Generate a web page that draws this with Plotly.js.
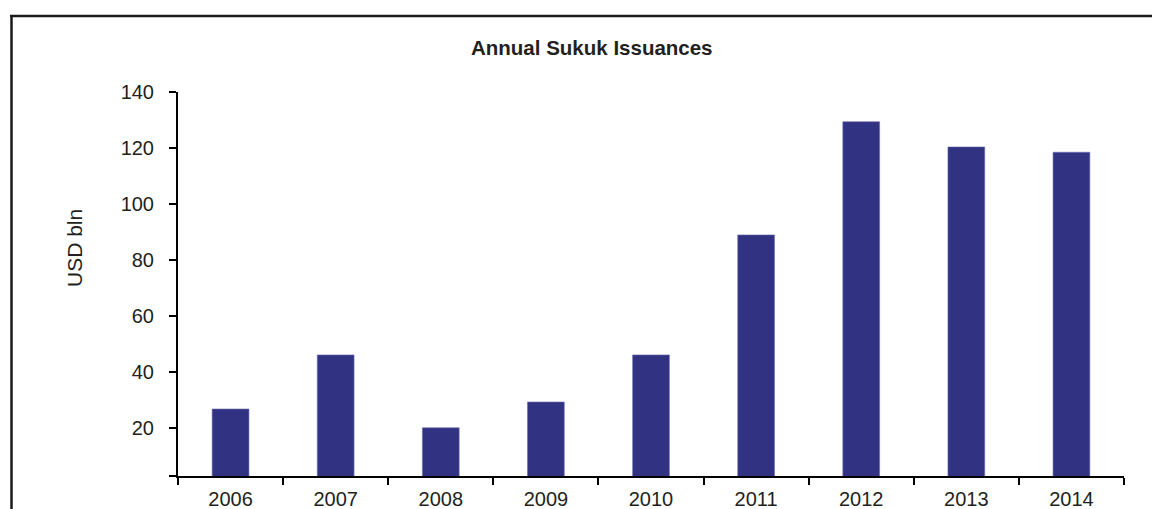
<!DOCTYPE html>
<html>
<head>
<meta charset="utf-8">
<script src="https://cdn.plot.ly/plotly-3.0.1.min.js"></script>
<style>html,body{margin:0;padding:0;background:#fff;}#chart{width:1152px;height:509px;}</style>
</head>
<body>
<div id="chart"></div>
<script>
const years = ['2006','2007','2008','2009','2010','2011','2012','2013','2014'];
const issuances = [26.9, 46.2, 20.2, 29.4, 46.2, 89.0, 129.4, 120.4, 118.5];
const yTickVals = [3, 20, 40, 60, 80, 100, 120, 140];
const yTickText = ['', '20', '40', '60', '80', '100', '120', '140'];
const titleText = 'Annual Sukuk Issuances';
const yTitleText = 'USD bln';

const font = {family: 'Liberation Sans, Arial, sans-serif', size: 20, color: '#231f20'};
const L = 178, R = 1124, T = 92, B = 476;
const px = v => (v - L) / (R - L);
const py = v => (B - v) / (B - T);

const trace = {
  type: 'bar', x: years, y: issuances,
  marker: {color: '#313282', line: {color: '#6a6bb0', width: 0.6}},
  hoverinfo: 'x+y'
};

const layout = {
  width: 1152, height: 509,
  margin: {l: L, r: 1152 - R, t: T, b: 509 - B, pad: 0},
  paper_bgcolor: '#fff', plot_bgcolor: '#fff',
  font: font,
  showlegend: false,
  bargap: 0.65,
  xaxis: {
    type: 'category', showgrid: false, zeroline: false,
    showline: true, linecolor: '#000', linewidth: 2,
    ticks: 'outside', tickson: 'boundaries', ticklen: 7, tickwidth: 2, tickcolor: '#000',
    tickfont: font, ticklabelstandoff: 4
  },
  yaxis: {
    range: [3, 140], showgrid: false, zeroline: false,
    showline: true, linecolor: '#000', linewidth: 2,
    ticks: 'outside', ticklen: 7, tickwidth: 2, tickcolor: '#000',
    tickmode: 'array', tickvals: yTickVals, ticktext: yTickText,
    tickfont: font, ticklabelstandoff: 11
  },
  annotations: [
    {text: '<b>' + titleText + '</b>', xref: 'paper', yref: 'paper', x: px(592), y: py(47),
     xanchor: 'center', yanchor: 'middle', showarrow: false,
     font: {family: 'Liberation Sans, Arial, sans-serif', size: 20.5, color: '#231f20'}},
    {text: yTitleText, xref: 'paper', yref: 'paper', x: px(74), y: py(248),
     xanchor: 'center', yanchor: 'middle', showarrow: false, textangle: -90,
     font: {family: 'Liberation Sans, Arial, sans-serif', size: 21, color: '#231f20'}}
  ],
  shapes: [
    {type: 'line', xref: 'paper', yref: 'paper', x0: px(11.5), x1: px(11.5), y0: py(15), y1: py(515),
     line: {color: '#1a1a1a', width: 2.5}},
    {type: 'line', xref: 'paper', yref: 'paper', x0: px(10), x1: px(1160), y0: py(16), y1: py(16),
     line: {color: '#1a1a1a', width: 2.5}}
  ]
};

Plotly.newPlot('chart', [trace], layout, {displayModeBar: false, staticPlot: true});
</script>
</body>
</html>
